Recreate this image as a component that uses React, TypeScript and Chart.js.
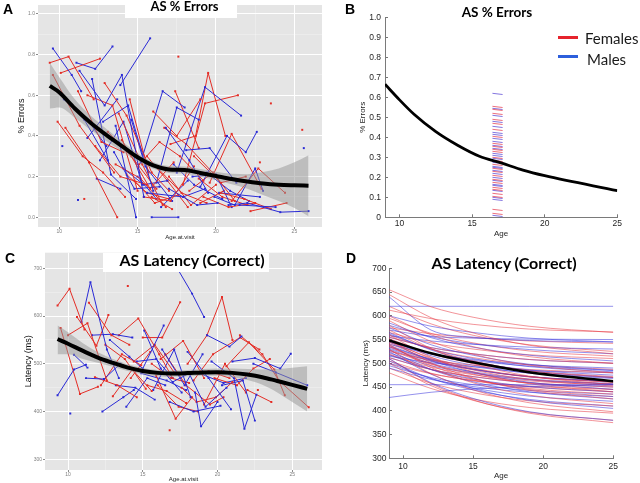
import React, { useEffect, useRef } from 'react';
import { Chart, registerables } from 'chart.js';

Chart.register(...registerables);

const FONT = "'Liberation Sans', Arial, sans-serif";
const TFONT = "Lato, 'Open Sans', sans-serif";
Chart.defaults.font.family = FONT;

// ---------- Panel A: % errors by age at visit (ggplot) ----------
const aFemaleAges: number[][] = [
  [9.4, 10.6, 12.2], [9.6, 11.3, 13.5], [9.9, 11.5, 12.8, 14.2], [10.1, 12.6], [10.4, 11.9, 13.7],
  [11.2, 12.7, 14.1], [11.8, 13.4, 15.0], [12.3, 13.9, 15.6], [12.9, 14.3, 15.9, 17.0], [13.1, 14.6, 16.2],
  [13.6, 15.2, 16.8], [14.0, 15.8, 17.3], [14.5, 15.7], [15.1, 16.4, 17.7, 19.2], [15.4, 17.1, 18.6],
  [16.0, 17.5, 19.0], [16.3, 17.8, 19.4], [16.7, 18.1, 19.9], [17.1, 18.7, 19.5, 20.6], [17.4, 18.9],
  [17.9, 19.3, 21.4], [18.3, 19.8, 21.2], [18.6, 20.3, 21.9], [19.2, 20.8, 22.5], [19.6, 21.0, 22.9],
  [20.3, 21.8, 23.5], [21.0, 22.7, 24.4], [22.2, 24.5], [13.8, 15.3, 16.6], [14.8, 16.1, 17.6],
  [15.9, 17.2], [19.0, 20.5], [17.6], [23.5], [25.5], [11.6], [22.8],
  [14.3, 15.6, 17.0], [17.0, 18.4, 20.0], [18.9, 20.4, 22.0], [15.6, 16.9, 18.2],
];
const aFemaleErr: number[][] = [
  [0.76, 0.79, 0.58], [0.70, 0.45, 0.22], [0.47, 0.30, 0.22, 0.10], [0.71, 0.78], [0.44, 0.27, 0.00],
  [0.62, 0.37, 0.32], [0.60, 0.55, 0.13], [0.35, 0.20, 0.16], [0.66, 0.50, 0.22, 0.13], [0.42, 0.30, 0.14],
  [0.26, 0.19, 0.05], [0.38, 0.14, 0.27], [0.58, 0.22], [0.26, 0.37, 0.30, 0.18], [0.10, 0.08, 0.25],
  [0.52, 0.40, 0.58], [0.24, 0.12, 0.07], [0.44, 0.36, 0.21], [0.36, 0.40, 0.71, 0.40], [0.62, 0.34],
  [0.16, 0.56, 0.60], [0.13, 0.22, 0.08], [0.30, 0.17, 0.20], [0.10, 0.05, 0.07], [0.17, 0.41, 0.14],
  [0.12, 0.09, 0.04], [0.08, 0.24, 0.12], [0.03, 0.07], [0.51, 0.26, 0.06], [0.18, 0.07, 0.11],
  [0.10, 0.04], [0.07, 0.13], [0.79], [0.56], [0.43], [0.09], [0.27],
  [0.21, 0.12, 0.09], [0.20, 0.06, 0.16], [0.19, 0.10, 0.06], [0.30, 0.18, 0.05],
];
const aMaleAges: number[][] = [
  [9.6, 10.8, 11.4], [9.9, 11.6, 13.1], [10.2], [11.1, 12.3, 13.4], [11.3, 12.9, 14.0, 15.4],
  [12.1, 13.3, 14.9], [12.4, 13.9], [12.8, 14.4, 16.0], [13.9, 15.8], [13.6, 14.9],
  [15.9, 17.6], [15.2, 16.6, 18.0], [16.2, 17.5, 18.9], [16.8, 18.3, 19.5], [17.0, 18.8, 20.1],
  [17.5, 19.3, 21.6], [18.1, 19.6, 21.3], [19.0, 20.7, 21.9, 22.6], [19.9, 21.2, 22.5, 23.0], [20.8, 22.0, 24.1, 25.9],
  [21.5, 23.8], [25.6], [11.2], [13.5, 14.8, 16.4], [14.6, 15.5, 17.2],
  [18.5, 20.0, 21.0], [11.8, 13.7], [15.6, 17.9, 19.3], [16.5, 18.2], [20.2, 22.8],
  [10.3, 11.9, 13.0], [12.6, 14.1, 15.3],
  [14.1, 15.4, 16.9], [17.3, 18.6, 20.4], [19.4, 20.9, 22.1], [15.0, 16.2],
];
const aMaleErr: number[][] = [
  [0.83, 0.70, 0.62], [0.62, 0.48, 0.28], [0.35], [0.76, 0.73, 0.84], [0.72, 0.55, 0.70, 0.10],
  [0.68, 0.21, 0.09], [0.19, 0.14], [0.47, 0.55, 0.13], [0.65, 0.88], [0.45, 0.00],
  [0.00, 0.00], [0.27, 0.62, 0.54], [0.17, 0.54, 0.48], [0.44, 0.28, 0.12], [0.14, 0.06, 0.07],
  [0.22, 0.64, 0.50], [0.33, 0.34, 0.17], [0.15, 0.40, 0.32, 0.42], [0.10, 0.06, 0.24, 0.13], [0.06, 0.07, 0.025, 0.03],
  [0.06, 0.05], [0.34], [0.085], [0.32, 0.14, 0.15], [0.48, 0.25, 0.08],
  [0.20, 0.21, 0.05], [0.39, 0.58], [0.12, 0.10, 0.14], [0.05, 0.18], [0.12, 0.10],
  [0.58, 0.47, 0.35], [0.28, 0.47, 0.16],
  [0.24, 0.16, 0.18], [0.26, 0.16, 0.09], [0.22, 0.13, 0.08], [0.20, 0.09],
];
const aFitAges = [9.4, 10, 11, 12, 13, 14, 15, 16, 17, 18, 19, 20, 21, 22, 23, 24, 25, 25.9];
const aFitErr = [0.646, 0.615, 0.535, 0.465, 0.405, 0.35, 0.295, 0.255, 0.235, 0.232, 0.218, 0.203, 0.188, 0.176, 0.166, 0.16, 0.157, 0.155];
const aBandHi = [0.76, 0.69, 0.58, 0.5, 0.435, 0.375, 0.315, 0.272, 0.252, 0.25, 0.237, 0.224, 0.214, 0.212, 0.222, 0.24, 0.27, 0.305];
const aBandLo = [0.535, 0.54, 0.49, 0.43, 0.375, 0.325, 0.275, 0.238, 0.218, 0.214, 0.2, 0.182, 0.162, 0.14, 0.11, 0.08, 0.045, 0.005];

// ---------- Panel B: modelled % errors ----------
const bCurveAges = [9, 10, 11, 12.5, 14, 15.5, 17, 18.5, 20, 25];
const bCurveErr = [0.665, 0.587, 0.515, 0.428, 0.36, 0.305, 0.272, 0.236, 0.208, 0.133];
const bFemaleDash = [0.555, 0.54, 0.52, 0.49, 0.47, 0.44, 0.405, 0.37, 0.355, 0.34, 0.33, 0.3, 0.285, 0.265, 0.245, 0.23, 0.21, 0.19, 0.175, 0.15, 0.14, 0.12, 0.105, 0.04, 0.02];
const bMaleDash = [0.62, 0.545, 0.51, 0.48, 0.455, 0.425, 0.415, 0.395, 0.38, 0.36, 0.345, 0.32, 0.31, 0.295, 0.275, 0.255, 0.25, 0.235, 0.22, 0.2, 0.185, 0.165, 0.16, 0.135, 0.1, 0.09, 0.01];
const bDashAges = [16.4, 17.1];

// ---------- Panel C: latency by age at visit (ggplot) ----------
const cFemaleAges: number[][] = [
  [9.3, 10.1, 11.1], [9.5, 10.8, 12.0], [10.0, 11.3, 12.6], [10.6, 11.9, 12.7], [11.4, 12.9, 14.1],
  [11.8, 13.3, 14.6], [12.2, 13.6, 14.9], [13.0, 14.3, 15.6], [13.4, 14.7, 16.1, 17.0], [14.0],
  [14.4, 15.8, 17.1], [15.0, 16.3, 17.5], [15.3, 16.6, 17.9], [15.9, 17.2, 18.3], [16.2, 17.7, 19.1],
  [16.8], [16.5, 17.9, 19.5, 20.4], [18.0, 19.3, 20.3, 21.0], [17.6, 18.6, 19.9, 21.0], [18.4, 19.7, 21.5, 22.8],
  [19.1, 20.5, 21.9], [19.8, 21.3, 22.4, 23.5], [20.6, 22.1, 23.8, 24.5], [21.5, 23.0, 24.1, 26.1], [22.0, 23.6],
  [22.7], [12.5, 13.8, 15.2], [16.0, 17.4, 18.7], [14.2, 15.5], [15.6, 16.9, 18.1], [19.4, 20.8],
];
const cFemaleLat: number[][] = [
  [622, 657, 572], [575, 437, 452], [560, 585, 465], [598, 538, 602], [628, 560, 540],
  [472, 455, 430], [455, 520, 497], [432, 488, 443], [560, 595, 520, 470], [663],
  [505, 540, 482], [555, 555, 629], [455, 443, 418], [475, 385, 430], [510, 548, 470],
  [361], [520, 455, 415, 430], [500, 560, 640, 550], [450, 420, 430, 462], [465, 520, 555, 530],
  [415, 500, 440], [470, 455, 490, 510], [495, 545, 488, 434], [560, 520, 465, 409], [445, 420],
  [445], [540, 510, 448], [455, 410, 400], [470, 525], [500, 470, 460], [485, 470],
];
const cMaleAges: number[][] = [
  [9.3, 10.4, 11.2], [10.15], [10.9, 11.5, 12.6, 13.4], [11.2, 12.4, 13.5], [11.6, 13.0, 14.3],
  [12.3, 13.7, 14.4], [12.8, 14.1, 15.0, 16.4], [13.9, 15.3, 16.5], [14.6, 15.9, 17.0], [15.1, 16.2, 17.6],
  [15.7, 17.1, 18.2], [16.3, 17.8, 19.0], [17.4, 18.3, 19.1], [17.0, 18.1, 19.2, 20.6], [18.0, 19.4, 20.9],
  [18.5, 18.9, 20.0], [19.3, 20.8, 21.6], [19.6, 21.1, 21.8, 22.6], [20.3, 21.7, 22.5], [21.0, 22.5, 24.2, 24.9],
  [22.4, 23.9, 26.0], [13.2, 14.5, 15.8], [16.8, 18.4, 20.2], [10.4, 11.3], [14.9, 16.6, 17.9], [18.8, 20.4, 21.9],
];
const cMaleLat: number[][] = [
  [434, 488, 498], [396], [588, 671, 530, 470], [470, 468, 500], [560, 562, 555],
  [400, 430, 445], [550, 515, 490, 580], [410, 470, 455], [505, 510, 470], [570, 490, 440],
  [445, 530, 430], [530, 455, 520], [695, 647, 598], [462, 480, 410, 450], [525, 470, 405],
  [440, 369, 420], [560, 536, 557], [505, 470, 364, 435], [455, 465, 381], [505, 512, 490, 521],
  [500, 482, 455], [455, 450, 425], [420, 400, 412], [519, 492], [480, 465, 445], [480, 460, 470],
];
const cFitAges = [9.3, 10, 11, 12, 13, 14, 15, 16, 17, 18, 19, 20, 21, 22, 23, 24, 25, 26];
const cFitLat = [552, 542, 527, 513, 502, 492, 485, 481, 479.5, 480.5, 482, 482.5, 481, 477.5, 472, 464, 456, 447.5];
const cBandHi = [580, 566, 543, 524, 510, 499, 491, 487, 486, 487, 489, 490, 490, 489, 488, 489, 492, 495];
const cBandLo = [520, 520, 510, 502, 494, 485, 478, 474, 473, 474, 475, 475, 472, 466, 456, 440, 420, 400];

// ---------- Panel D: modelled latency curves ----------
const dAges = [9, 12, 15, 19, 25];
const dFemaleLat: number[][] = [
  [655, 619, 597, 578, 565], [645, 596, 564, 538, 520], [612, 594, 582, 572, 566], [600, 560, 535, 514, 500],
  [590, 546, 519, 496, 480], [580, 531, 499, 473, 455], [570, 530, 505, 484, 470], [560, 513, 482, 457, 440],
  [555, 533, 520, 508, 500], [550, 501, 469, 443, 425], [545, 512, 490, 472, 460], [540, 491, 459, 433, 415],
  [535, 499, 477, 458, 445], [530, 478, 444, 417, 398], [525, 507, 496, 487, 480], [520, 487, 465, 447, 435],
  [510, 457, 423, 395, 375], [500, 453, 422, 397, 380], [490, 458, 438, 421, 410], [480, 447, 425, 407, 395],
  [620, 583, 559, 539, 525], [565, 543, 530, 518, 510], [548, 510, 486, 466, 452], [538, 495, 468, 445, 430],
  [575, 562, 554, 547, 542], [512, 487, 472, 459, 450], [505, 479, 463, 450, 440], [595, 563, 543, 526, 515],
  [535, 505, 487, 472, 462], [528, 498, 480, 466, 456], [552, 520, 500, 484, 472], [518, 492, 476, 463, 454],
  [542, 508, 488, 471, 460], [560, 530, 512, 497, 487], [500, 478, 464, 452, 445],
];
const dMaleLat: number[][] = [
  [620, 620, 620, 620, 620], [455, 455, 455, 455, 455], [428, 439, 446, 451, 455], [640, 570, 555, 548, 545],
  [600, 578, 565, 553, 545], [585, 554, 534, 517, 505], [575, 539, 517, 498, 485], [565, 528, 504, 484, 470],
  [558, 547, 540, 534, 530], [550, 520, 502, 486, 475], [545, 506, 481, 460, 445], [540, 520, 508, 497, 490],
  [532, 504, 487, 472, 462], [525, 477, 447, 422, 405], [518, 487, 467, 451, 440], [510, 459, 426, 398, 380],
  [500, 468, 448, 431, 420], [490, 466, 451, 439, 430], [570, 557, 553, 551, 550], [555, 533, 520, 508, 500],
  [535, 509, 493, 480, 470], [528, 487, 461, 440, 425], [515, 501, 493, 485, 480], [580, 556, 541, 529, 520],
  [545, 521, 506, 494, 485], [505, 468, 444, 424, 410],
  [538, 507, 488, 472, 461], [548, 516, 496, 479, 468], [522, 495, 479, 465, 456], [530, 500, 482, 467, 457],
  [562, 530, 510, 493, 482], [512, 487, 472, 459, 450], [495, 470, 455, 443, 435],
];
const dMeanLat = [548, 521, 502, 481, 462];

// ---------- helpers ----------
const RED = 'rgb(228,45,38)';
const BLUE = 'rgb(42,42,214)';

const ggBackground = {
  id: 'ggBackground',
  beforeDraw(chart: any) {
    const { ctx, chartArea } = chart;
    if (!chartArea) return;
    ctx.save();
    ctx.fillStyle = '#e5e5e5';
    ctx.fillRect(chartArea.left, chartArea.top, chartArea.right - chartArea.left, chartArea.bottom - chartArea.top);
    ctx.restore();
  },
};

function pts(xs: number[], ys: number[]) {
  return xs.map((x, i) => ({ x, y: ys[i] }));
}

function traj(ages: number[], vals: number[], color: string) {
  return {
    data: pts(ages, vals),
    borderColor: color,
    backgroundColor: color,
    pointBackgroundColor: color,
    borderWidth: 1,
    pointRadius: 1.4,
    pointStyle: 'rect',
    pointBorderWidth: 0,
    fill: false,
    order: 3,
  };
}

function trajectories(fA: number[][], fV: number[][], mA: number[][], mV: number[][]) {
  const out: any[] = [];
  const n = Math.max(fA.length, mA.length);
  for (let i = 0; i < n; i++) {
    if (i < fA.length) out.push(traj(fA[i], fV[i], RED));
    if (i < mA.length) out.push(traj(mA[i], mV[i], BLUE));
  }
  return out;
}

function smoothSets(ages: number[], fit: number[], hi: number[], lo: number[]) {
  return [
    { data: pts(ages, fit), borderColor: '#000', borderWidth: 4, pointRadius: 0, fill: false, cubicInterpolationMode: 'monotone', order: 0 },
    { data: pts(ages, hi), borderColor: 'rgba(0,0,0,0)', borderWidth: 0, pointRadius: 0, fill: '+1', backgroundColor: 'rgba(150,150,150,0.5)', cubicInterpolationMode: 'monotone', order: 1 },
    { data: pts(ages, lo), borderColor: 'rgba(0,0,0,0)', borderWidth: 0, pointRadius: 0, fill: false, cubicInterpolationMode: 'monotone', order: 1 },
  ];
}

const near = (v: number, step: number) => Math.abs(v / step - Math.round(v / step)) < 1e-6;

function ggScales(p: any) {
  const xMajor = (c: any) => c.tick && near(c.tick.value, 5);
  const yMajor = (c: any) => c.tick && near(c.tick.value, p.yMajor);
  return {
    x: {
      type: 'linear', min: p.xMin, max: p.xMax,
      afterFit: (s: any) => { s.height = p.xH; },
      ticks: {
        stepSize: 2.5, includeBounds: false, autoSkip: false, maxRotation: 0, padding: 0,
        color: '#7f7f7f', font: { size: 5, family: FONT },
        callback: (v: any) => (near(Number(v), 5) ? String(v) : ''),
      },
      grid: {
        color: (c: any) => (xMajor(c) ? '#ffffff' : 'rgba(255,255,255,0.55)'),
        lineWidth: (c: any) => (xMajor(c) ? 1 : 0.5),
        tickColor: (c: any) => (xMajor(c) ? '#8a8a8a' : 'rgba(0,0,0,0)'),
        tickLength: 2,
      },
      border: { display: false },
      title: { display: true, text: 'Age.at.visit', color: '#222', font: { size: 6, family: FONT }, padding: { top: 0, bottom: p.xTitlePad } },
    },
    y: {
      type: 'linear', min: p.yMin, max: p.yMax,
      afterFit: (s: any) => { s.width = p.yW; },
      ticks: {
        stepSize: p.yStep, includeBounds: false, autoSkip: false, padding: 1,
        color: '#7f7f7f', font: { size: 5, family: FONT },
        callback: (v: any) => (near(Number(v), p.yMajor) ? p.yFmt(Number(v)) : ''),
      },
      grid: {
        color: (c: any) => (yMajor(c) ? '#ffffff' : 'rgba(255,255,255,0.55)'),
        lineWidth: (c: any) => (yMajor(c) ? 1 : 0.5),
        tickColor: (c: any) => (yMajor(c) ? '#8a8a8a' : 'rgba(0,0,0,0)'),
        tickLength: 2,
      },
      border: { display: false },
      title: { display: true, text: p.yTitle, color: '#111', font: { size: 9, family: FONT }, padding: { top: p.yTitlePad, bottom: 0 } },
    },
  };
}

function matScales(p: any) {
  const axisGrid = { display: true, drawOnChartArea: false, drawTicks: true, tickLength: -3, tickColor: '#777', color: '#777' };
  return {
    x: {
      type: 'linear', min: 9, max: 25,
      afterFit: (s: any) => { s.height = p.xH; },
      ticks: { stepSize: 5, includeBounds: false, autoSkip: false, maxRotation: 0, padding: p.xTickPad, color: '#262626', font: { size: 8.5, family: FONT } },
      grid: axisGrid,
      border: { display: true, color: '#7a7a7a', width: 1 },
      title: { display: true, text: 'Age', color: '#262626', font: { size: 8, family: FONT }, padding: { top: 0, bottom: p.xTitlePad } },
    },
    y: {
      type: 'linear', min: p.yMin, max: p.yMax,
      afterFit: (s: any) => { s.width = p.yW; },
      ticks: { stepSize: p.yStep, autoSkip: false, padding: p.yTickPad, color: '#262626', font: { size: 8.5, family: FONT } },
      grid: axisGrid,
      border: { display: true, color: '#7a7a7a', width: 1 },
      title: { display: true, text: p.yTitle, color: '#262626', font: { size: 8, family: FONT }, padding: { top: p.yTitlePad, bottom: 0 } },
    },
  };
}

const baseOptions = {
  animation: false,
  responsive: false,
  events: [],
  plugins: { legend: { display: false }, tooltip: { enabled: false }, title: { display: false } },
};

function buildA() {
  return {
    type: 'line',
    data: { datasets: [...smoothSets(aFitAges, aFitErr, aBandHi, aBandLo), ...trajectories(aFemaleAges, aFemaleErr, aMaleAges, aMaleErr)] },
    options: {
      ...baseOptions,
      layout: { padding: { left: 0, top: 5, right: 1, bottom: 0 } },
      scales: ggScales({
        xMin: 8.65, xMax: 26.76, yMin: -0.048, yMax: 1.044, yStep: 0.1, yMajor: 0.2,
        yFmt: (v: number) => v.toFixed(1), yTitle: '% Errors', yW: 38, xH: 15, yTitlePad: 16.3, xTitlePad: 1.1,
      }),
    },
    plugins: [ggBackground],
  };
}

function buildC() {
  return {
    type: 'line',
    data: { datasets: [...smoothSets(cFitAges, cFitLat, cBandHi, cBandLo), ...trajectories(cFemaleAges, cFemaleLat, cMaleAges, cMaleLat)] },
    options: {
      ...baseOptions,
      layout: { padding: { left: 0, top: 10.7, right: 1, bottom: 0 } },
      scales: ggScales({
        xMin: 8.46, xMax: 26.99, yMin: 277.6, yMax: 732.7, yStep: 50, yMajor: 100,
        yFmt: (v: number) => String(Math.round(v)), yTitle: 'Latency (ms)', yW: 45, xH: 13, yTitlePad: 23.6, xTitlePad: 0.1,
      }),
    },
    plugins: [ggBackground],
  };
}

function buildB() {
  const dash = (v: number, color: string) => ({
    data: pts(bDashAges, [v, v - 0.006]),
    borderColor: color, borderWidth: 1, pointRadius: 0, fill: false, order: 2,
  });
  const dashes: any[] = [];
  const n = Math.max(bFemaleDash.length, bMaleDash.length);
  for (let i = 0; i < n; i++) {
    if (i < bFemaleDash.length) dashes.push(dash(bFemaleDash[i], 'rgba(228,50,70,0.7)'));
    if (i < bMaleDash.length) dashes.push(dash(bMaleDash[i], 'rgba(80,60,210,0.7)'));
  }
  return {
    type: 'line',
    data: {
      datasets: [
        { data: pts(bCurveAges, bCurveErr), borderColor: '#000', borderWidth: 2.8, pointRadius: 0, fill: false, cubicInterpolationMode: 'monotone', order: 0 },
        ...dashes,
      ],
    },
    options: {
      ...baseOptions,
      layout: { padding: { left: 0, top: 17.3, right: 12.7, bottom: 0 } },
      scales: matScales({ yMin: 0, yMax: 1, yStep: 0.1, yTitle: '% Errors', yW: 55, xH: 24.7, yTickPad: 7, xTickPad: 4.6, yTitlePad: 27.5, xTitlePad: 3.9 }),
    },
  };
}

function buildD() {
  const sets: any[] = [];
  const n = Math.max(dFemaleLat.length, dMaleLat.length);
  for (let i = 0; i < n; i++) {
    if (i < dFemaleLat.length) sets.push({ data: pts(dAges, dFemaleLat[i]), borderColor: 'rgba(232,60,70,0.55)', borderWidth: 1, pointRadius: 0, fill: false, cubicInterpolationMode: 'monotone', order: 2 });
    if (i < dMaleLat.length) sets.push({ data: pts(dAges, dMaleLat[i]), borderColor: 'rgba(60,55,220,0.55)', borderWidth: 1, pointRadius: 0, fill: false, cubicInterpolationMode: 'monotone', order: 2 });
  }
  return {
    type: 'line',
    data: {
      datasets: [
        { data: pts(dAges, dMeanLat), borderColor: '#000', borderWidth: 2.5, pointRadius: 0, fill: false, cubicInterpolationMode: 'monotone', order: 0 },
        ...sets,
      ],
    },
    options: {
      ...baseOptions,
      layout: { padding: { left: 0, top: 26.3, right: 16.7, bottom: 0 } },
      scales: matScales({ yMin: 300, yMax: 700, yStep: 50, yTitle: 'Latency (ms)', yW: 59, xH: 24.7, yTickPad: 5.5, xTickPad: 6.3, yTitlePad: 31.2, xTitlePad: 2.7 }),
    },
  };
}

function ChartCanvas({ left, top, width, height, build }: { left: number; top: number; width: number; height: number; build: () => any }) {
  const ref = useRef<HTMLCanvasElement | null>(null);
  useEffect(() => {
    if (!ref.current) return;
    const chart = new Chart(ref.current, build() as any);
    return () => chart.destroy();
  }, []);
  return <canvas ref={ref} width={width} height={height} style={{ position: 'absolute', left, top, width, height, display: 'block' }} />;
}

function Label({ x, base, size, text, lato, bold, align = 'left', color = '#000' }: { x: number; base: number; size: number; text: string; lato?: boolean; bold?: boolean; align?: 'left' | 'center'; color?: string }) {
  const k = lato ? 0.887 : 0.8465;
  const style: any = {
    position: 'absolute',
    top: base - k * size,
    fontFamily: lato ? TFONT : FONT,
    fontSize: size,
    lineHeight: `${size}px`,
    fontWeight: bold ? 700 : 400,
    color,
    whiteSpace: 'nowrap',
  };
  if (align === 'center') {
    style.left = x - 150;
    style.width = 300;
    style.textAlign = 'center';
  } else {
    style.left = x;
  }
  return <div style={style}>{text}</div>;
}

export default function App() {
  return (
    <div style={{ position: 'fixed', left: 0, top: 0, width: 640, height: 483, background: '#fff', overflow: 'hidden' }}>
      <ChartCanvas left={0} top={0} width={326} height={242} build={buildA} />
      <ChartCanvas left={330} top={0} width={300} height={242} build={buildB} />
      <ChartCanvas left={0} top={242} width={326} height={241} build={buildC} />
      <ChartCanvas left={330} top={242} width={300} height={241} build={buildD} />

      <div style={{ position: 'absolute', left: 125, top: 0, width: 112, height: 18.3, background: '#fff' }} />
      <div style={{ position: 'absolute', left: 103, top: 252.7, width: 166, height: 19, background: '#fff' }} />

      <Label x={184.5} base={11.7} size={13} text="AS % Errors" lato bold align="center" />
      <Label x={497} base={18.3} size={13.5} text="AS % Errors" lato bold align="center" />
      <Label x={192} base={266.5} size={16} text="AS Latency (Correct)" lato bold align="center" />
      <Label x={504} base={269.3} size={16} text="AS Latency (Correct)" lato bold align="center" />

      <Label x={3} base={14} size={14} text="A" bold />
      <Label x={345} base={14} size={14} text="B" bold />
      <Label x={5} base={262.7} size={14} text="C" bold />
      <Label x={346} base={263} size={14} text="D" bold />

      <div style={{ position: 'absolute', left: 558, top: 35.5, width: 20, height: 3, background: 'rgb(230,35,45)' }} />
      <div style={{ position: 'absolute', left: 558, top: 55, width: 20, height: 3, background: 'rgb(45,95,220)' }} />
      <Label x={585} base={44.3} size={15} text="Females" lato color="#1a1a1a" />
      <Label x={587} base={65} size={15} text="Males" lato color="#1a1a1a" />
    </div>
  );
}
